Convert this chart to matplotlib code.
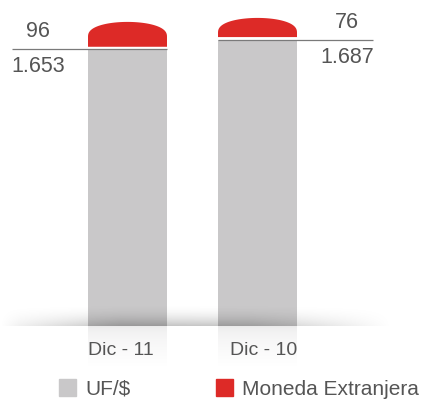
import numpy as np
import matplotlib
matplotlib.use("Agg")
import matplotlib.pyplot as plt
from matplotlib.patches import Polygon, Patch
from matplotlib import font_manager

# data
categories = ["Dic - 11", "Dic - 10"]
uf_pesos = [1653, 1687]
moneda_ext = [96, 76]
uf_labels = ["1.653", "1.687"]
me_labels = ["96", "76"]
series_names = ["UF/$", "Moneda Extranjera"]

GRAY = "#c9c8c9"
RED = "#dd2a27"
TXT = "#555555"
LINE = "#7a7a7a"

names = {f.name for f in font_manager.fontManager.ttflist}
fam = "Liberation Sans Narrow" if "Liberation Sans Narrow" in names else "Liberation Sans"
plt.rcParams["font.family"] = [fam, "DejaVu Sans"]

W, H = 421, 404
fig = plt.figure(figsize=(W / 100, H / 100), dpi=100)
ax = fig.add_axes([0, 0, 1, 1])
ax.axis("off")

# scales: 130 px per category, 0.285 px per unit, baseline value 682 at 78 px from bottom
xpx = 130.0
ypx = 0.285
base = 682
ax.set_xlim(-127.5 / xpx, (W - 127.5) / xpx)
ax.set_ylim(base - 78 / ypx, base + (H - 78) / ypx)
y0, y1 = ax.get_ylim()
x0, x1 = ax.get_xlim()

x = np.arange(len(categories))
bw = 79 / xpx
ax.bar(x, uf_pesos, width=bw, color=GRAY, zorder=2)

# red tops with a dome
gap = 2.5 / ypx
dome = 15 / ypx
for i, (g, r) in enumerate(zip(uf_pesos, moneda_ext)):
    lo = g + gap
    hi = g + r
    mid = max(hi - dome, lo)
    t = np.linspace(np.pi, 0, 60)
    xs = i + (bw / 2) * np.cos(t)
    ys = mid + (hi - mid) * np.sin(t) ** 0.8
    pts = [(i - bw / 2, lo)] + list(zip(xs, ys)) + [(i + bw / 2, lo)]
    ax.add_patch(Polygon(pts, closed=True, color=RED, lw=0, zorder=2))

# value lines and labels
ext = 76 / xpx
sides = [-1, 1]
for i, s in enumerate(sides):
    if s < 0:
        xa, xb = i - bw / 2 - ext, i + bw / 2
    else:
        xa, xb = i - bw / 2, i + bw / 2 + ext
    g = uf_pesos[i]
    ax.plot([xa, xb], [g, g], color=LINE, lw=0.9, zorder=4, solid_capstyle="butt")
    tx = i + s * 0.69
    ax.annotate(me_labels[i], (tx, g), xytext=(0, 5), textcoords="offset points",
                ha="center", va="bottom", fontsize=15.5, color=TXT, zorder=5)
    ax.annotate(uf_labels[i], (tx, g), xytext=(0, -5), textcoords="offset points",
                ha="center", va="top", fontsize=15.5, color=TXT, zorder=5)

# floor shadow (dark at the floor, fading upward and sideways)
nx, ny = 400, 40
hx = np.linspace(0, 1, nx)
prof_x = np.clip(np.interp(hx, [0, 0.05, 0.3, 0.62, 0.98, 1.0], [0, 0.25, 1, 0.9, 0, 0]), 0, 1)
prof_y = np.linspace(1, 0, ny) ** 2
alpha = np.outer(prof_y, prof_x) * 0.24
img = np.zeros((ny, nx, 4))
img[..., 3] = alpha
ax.imshow(img, extent=[x0, x0 + 400 / xpx, base, base + 22 / ypx], origin="lower",
          aspect="auto", zorder=3, interpolation="bilinear")

# fade bars below floor
fy = np.linspace(0, 1, 60)
fa = np.clip(0.62 + 0.38 * (1 - fy) ** 0.5, 0, 1)
fade = np.ones((60, 2, 4))
fade[..., 3] = fa[:, None]
ax.imshow(fade, extent=[x0, x1, base - 40 / ypx, base], origin="lower",
          aspect="auto", zorder=3, interpolation="bilinear")
ax.fill_between([x0, x1], y0, base - 40 / ypx, color="white", zorder=3)
ax.set_xlim(x0, x1)
ax.set_ylim(y0, y1)

# category labels
trans = ax.get_xaxis_transform()
aligns = ["left", "right"]
for i, c in enumerate(categories):
    xx = i - bw / 2 if aligns[i] == "left" else i + bw / 2
    ax.text(xx, (H - 355) / H, c, transform=trans, ha=aligns[i], va="baseline",
            fontsize=14, color=TXT, zorder=6)

# legend
handles = [Patch(color=GRAY), Patch(color=RED)]
fig.legend(handles, series_names, loc="center left", bbox_to_anchor=(59 / W, (H - 389) / H),
           ncol=2, frameon=False, fontsize=15, handlelength=0.82, handleheight=0.82,
           handletextpad=0.43, columnspacing=4.1, borderpad=0, borderaxespad=0,
           labelcolor=TXT)

fig.savefig("out.png", dpi=100)
